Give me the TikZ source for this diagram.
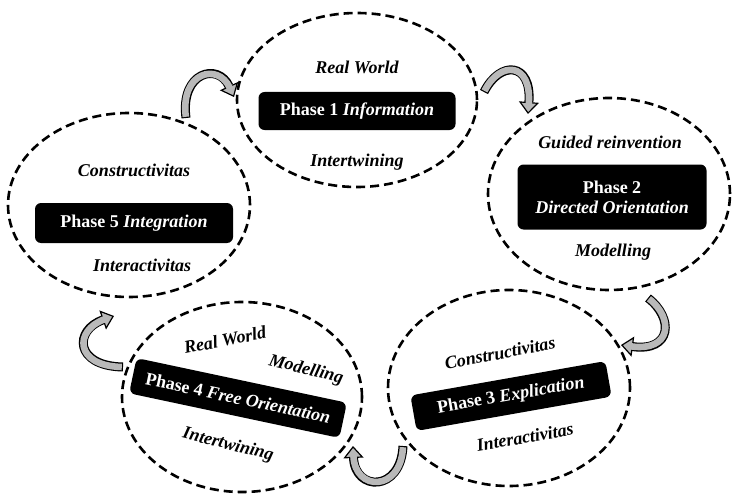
\documentclass[tikz,border=0pt]{standalone}
\usepackage{fontspec}
\setmainfont{Liberation Serif}
\usetikzlibrary{shapes.geometric,arrows.meta}
\begin{document}
\begin{tikzpicture}[x=1pt,y=-1pt,
  phase/.style={ellipse, draw, line width=2.6pt, dash pattern=on 9pt off 5pt, inner sep=0pt},
  stage/.style={fill=black, rounded corners=6pt, text=white,
    font=\fontsize{18}{20}\selectfont\bfseries, align=center, inner sep=0pt},
  cue/.style={font=\fontsize{18}{20}\selectfont\bfseries\itshape, inner sep=0pt},
  flow/.style={line width=9pt, black,
    -{Triangle[length=12pt,width=20pt,line width=1.2pt,fill=gray!55]},
    postaction={draw=gray!55, line width=6.6pt, -, shorten >=10pt, shorten <=1.2pt}}
]
\useasboundingbox (0,0) rectangle (734,495);

% the five phase bubbles
\node[phase, minimum width=240pt, minimum height=174pt] (c1) at (357,100) {};
\node[phase, minimum width=242pt, minimum height=192pt] (c2) at (609,194) {};
\node[phase, minimum width=242pt, minimum height=196pt] (c3) at (509,388) {};
\node[phase, minimum width=240pt, minimum height=190pt] (c4) at (242,397) {};
\node[phase, minimum width=242pt, minimum height=184pt] (c5) at (129,205) {};

% phase 1
\node[cue] (p1a) at (357,67) {Real World};
\node[stage, minimum width=197pt, minimum height=38pt] (p1) at (357,111) {Phase 1 \textit{Information}};
\node[cue] (p1b) at (357,162) {Intertwining};

% phase 2
\node[cue] (p2a) at (610,142) {Guided reinvention};
\node[stage, minimum width=189pt, minimum height=65pt] (p2) at (612,197) {Phase 2\\\textit{Directed Orientation}};
\node[cue] (p2b) at (613,252) {Modelling};

% phase 3
\node[cue, rotate=11] (p3a) at (500,353) {Constructivitas};
\node[stage, rotate=10, minimum width=198pt, minimum height=36pt] (p3) at (511,396) {Phase 3 \textit{Explication}};
\node[cue, rotate=10] (p3b) at (525,437) {Interactivitas};

% phase 4
\node[cue, rotate=11] (p4a) at (225,340) {Real World};
\node[cue, rotate=-14] (p4b) at (306,370) {Modelling};
\node[stage, rotate=-12, minimum width=215pt, minimum height=36pt] (p4) at (238,398) {Phase 4 \textit{Free Orientation}};
\node[cue, rotate=-14] (p4c) at (228,445) {Intertwining};

% phase 5
\node[cue] (p5a) at (134,170) {Constructivitas};
\node[stage, minimum width=198pt, minimum height=40pt] (p5) at (134,223) {Phase 5 \textit{Integration}};
\node[cue] (p5b) at (142,265) {Interactivitas};

% curved transition arrows
\coordinate (a1s) at (186,118);  \coordinate (a1e) at (234,97);
\coordinate (a2s) at (484,92);   \coordinate (a2e) at (528,114);
\coordinate (a3s) at (648,298);  \coordinate (a3e) at (621,345);
\coordinate (a4s) at (403,446);  \coordinate (a4e) at (353,446);
\coordinate (a5s) at (123,367);  \coordinate (a5e) at (114,316);

\draw[flow] (a1s) .. controls (180,72) and (218,62) .. (a1e);
\draw[flow] (a2s) .. controls (500,60) and (532,62) .. (a2e);
\draw[flow] (a3s) .. controls (674,318) and (672,352) .. (a3e);
\draw[flow] (a4s) .. controls (401,492) and (355,492) .. (a4e);
\draw[flow] (a5s) .. controls (74,366) and (74,330) .. (a5e);
\end{tikzpicture}
\end{document}
